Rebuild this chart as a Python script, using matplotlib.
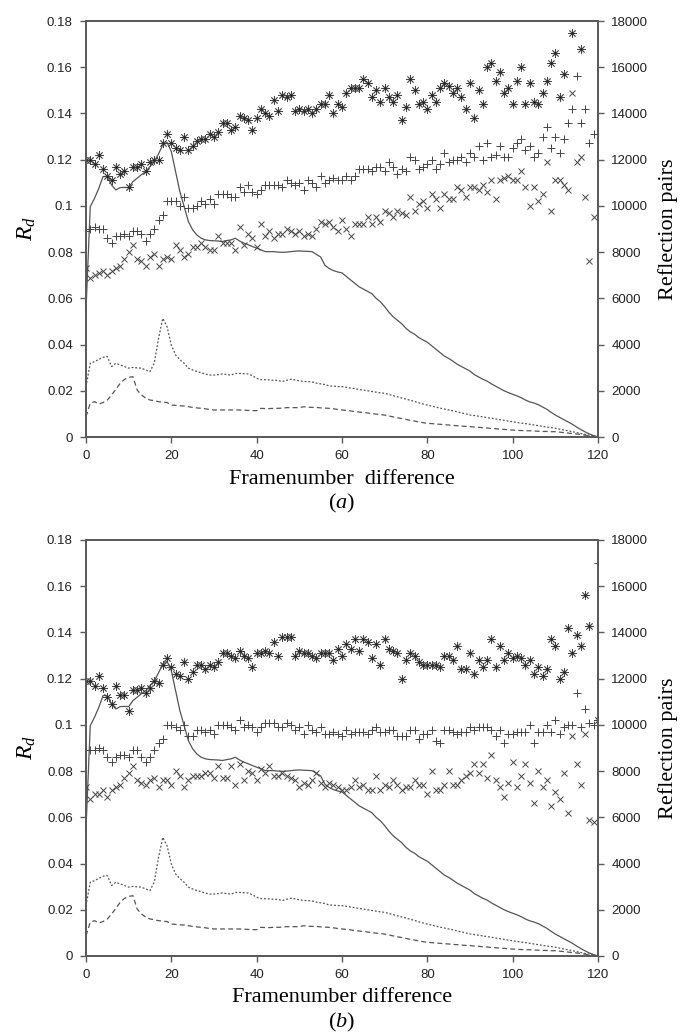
import numpy as np
import matplotlib
matplotlib.use('Agg')
import matplotlib.pyplot as plt
from matplotlib.ticker import FuncFormatter, MultipleLocator

nan = np.nan
frames = np.arange(121)

# panel (a): R_d values for the three marker series
a_star = [0.120, 0.120, 0.118, 0.122, 0.116, 0.113, 0.111, 0.117, 0.114, 0.115,
          0.108, 0.117, 0.117, 0.118, 0.115, 0.119, 0.120, 0.120, 0.127, 0.131,
          0.127, 0.125, 0.124, 0.130, 0.124, 0.126, 0.128, 0.129, 0.129, 0.131,
          0.130, 0.132, 0.136, 0.136, 0.133, 0.134, 0.139, 0.138, 0.137, 0.133,
          0.138, 0.142, 0.140, 0.139, 0.146, 0.141, 0.148, 0.147, 0.148, 0.141,
          0.142, 0.141, 0.142, 0.140, 0.142, 0.144, 0.144, 0.148, 0.140, 0.144,
          0.143, 0.149, 0.151, 0.151, 0.151, 0.155, 0.153, 0.147, 0.150, 0.145,
          0.151, 0.147, 0.145, 0.148, 0.137, 0.143, 0.155, 0.150, 0.144, 0.145,
          0.142, 0.148, 0.145, 0.151, 0.153, 0.152, 0.149, 0.151, 0.147, 0.142,
          0.153, 0.138, 0.150, 0.144, 0.160, 0.162, 0.154, 0.158, 0.149, 0.151,
          0.144, 0.154, 0.160, 0.144, 0.153, 0.145, 0.144, 0.149, 0.154, 0.162,
          0.166, 0.147, 0.157, nan, 0.175, nan, 0.168, nan, nan, nan, nan]
a_plus = [0.089, 0.090, 0.091, 0.090, 0.090, 0.086, 0.084, 0.087, 0.087, 0.088,
          0.087, 0.089, 0.089, 0.088, 0.085, 0.088, 0.090, 0.094, 0.096, 0.102,
          0.102, 0.102, 0.100, 0.104, 0.099, 0.099, 0.100, 0.102, 0.101, 0.103,
          0.101, 0.105, 0.105, 0.105, 0.104, 0.104, 0.108, 0.106, 0.109, 0.106,
          0.105, 0.107, 0.109, 0.109, 0.109, 0.109, 0.108, 0.111, 0.110, 0.109,
          0.110, 0.107, 0.111, 0.110, 0.108, 0.113, 0.110, 0.111, 0.112, 0.111,
          0.111, 0.113, 0.111, 0.113, 0.116, 0.116, 0.116, 0.115, 0.117, 0.117,
          0.115, 0.119, 0.117, 0.114, 0.116, 0.115, 0.121, 0.120, 0.116, 0.117,
          0.118, 0.120, 0.116, 0.118, 0.123, 0.119, 0.120, 0.120, 0.121, 0.119,
          0.123, 0.121, 0.126, 0.120, 0.127, 0.121, 0.122, 0.126, 0.121, 0.121,
          0.125, 0.127, 0.129, 0.124, 0.126, 0.121, 0.123, 0.130, 0.134, 0.125,
          0.130, 0.123, 0.129, 0.136, 0.142, 0.156, 0.136, 0.142, 0.127, 0.131, nan]
a_cross = [0.073, 0.069, 0.070, 0.071, 0.072, 0.070, 0.072, 0.073, 0.074, 0.077,
           0.080, 0.083, 0.077, 0.076, 0.074, 0.078, 0.079, 0.074, 0.077, 0.078,
           0.077, 0.083, 0.081, 0.078, 0.079, 0.082, 0.082, 0.084, 0.082, 0.081,
           0.081, 0.087, 0.084, 0.084, 0.084, 0.081, 0.091, 0.083, 0.088, 0.086,
           0.082, 0.092, 0.087, 0.089, 0.086, 0.088, 0.088, 0.090, 0.089, 0.088,
           0.089, 0.087, 0.088, 0.087, 0.090, 0.093, 0.092, 0.093, 0.091, 0.089,
           0.094, 0.090, 0.087, 0.092, 0.092, 0.092, 0.095, 0.092, 0.095, 0.093,
           0.098, 0.097, 0.095, 0.098, 0.097, 0.096, 0.104, 0.098, 0.101, 0.102,
           0.099, 0.105, 0.103, 0.099, 0.105, 0.103, 0.103, 0.108, 0.107, 0.104,
           0.108, 0.108, 0.107, 0.109, 0.106, 0.111, 0.103, 0.111, 0.112, 0.113,
           0.111, 0.111, 0.115, 0.108, 0.100, 0.108, 0.102, 0.105, 0.119, 0.098,
           0.111, 0.111, 0.109, 0.107, 0.149, 0.119, 0.121, 0.104, 0.076, 0.095, nan]

# panel (b)
b_star = [0.119, 0.119, 0.117, 0.121, 0.116, 0.112, 0.109, 0.117, 0.113, 0.113,
          0.106, 0.115, 0.115, 0.116, 0.114, 0.116, 0.119, 0.118, 0.126, 0.129,
          0.125, 0.122, 0.121, 0.127, 0.120, 0.123, 0.126, 0.126, 0.124, 0.126,
          0.125, 0.127, 0.131, 0.131, 0.130, 0.129, 0.132, 0.130, 0.129, 0.125,
          0.131, 0.131, 0.132, 0.131, 0.136, 0.130, 0.138, 0.138, 0.138, 0.130,
          0.132, 0.131, 0.131, 0.130, 0.129, 0.131, 0.131, 0.131, 0.128, 0.133,
          0.130, 0.135, 0.133, 0.137, 0.132, 0.137, 0.136, 0.129, 0.135, 0.126,
          0.137, 0.133, 0.132, 0.131, 0.120, 0.128, 0.131, 0.130, 0.127, 0.126,
          0.126, 0.126, 0.126, 0.125, 0.130, 0.130, 0.128, 0.134, 0.124, 0.124,
          0.131, 0.122, 0.128, 0.125, 0.128, 0.137, 0.125, 0.134, 0.128, 0.131,
          0.129, 0.130, 0.129, 0.126, 0.128, 0.122, 0.125, 0.121, 0.124, 0.137,
          0.134, 0.120, 0.123, 0.142, 0.131, 0.139, 0.134, 0.156, 0.143, nan, 0.102]
b_plus = [0.089, 0.089, 0.089, 0.090, 0.089, 0.086, 0.084, 0.086, 0.087, 0.087,
          0.086, 0.089, 0.089, 0.086, 0.084, 0.086, 0.089, 0.092, 0.094, 0.100,
          0.100, 0.099, 0.098, 0.100, 0.095, 0.095, 0.098, 0.098, 0.097, 0.098,
          0.096, 0.100, 0.100, 0.100, 0.099, 0.098, 0.102, 0.099, 0.100, 0.099,
          0.097, 0.099, 0.101, 0.101, 0.101, 0.099, 0.099, 0.101, 0.100, 0.098,
          0.099, 0.096, 0.100, 0.098, 0.097, 0.099, 0.096, 0.096, 0.097, 0.096,
          0.095, 0.098, 0.096, 0.097, 0.097, 0.097, 0.096, 0.098, 0.099, 0.097,
          0.097, 0.098, 0.098, 0.095, 0.095, 0.095, 0.098, 0.098, 0.094, 0.096,
          0.096, 0.098, 0.093, 0.092, 0.098, 0.098, 0.097, 0.096, 0.097, 0.097,
          0.099, 0.098, 0.099, 0.099, 0.099, 0.098, 0.095, 0.098, 0.092, 0.096,
          0.096, 0.097, 0.097, 0.097, 0.100, 0.092, 0.097, 0.097, 0.100, 0.097,
          0.102, 0.096, 0.099, 0.100, 0.100, 0.114, 0.099, 0.107, 0.101, 0.100, 0.170]
b_cross = [0.073, 0.068, 0.070, 0.070, 0.072, 0.069, 0.072, 0.073, 0.074, 0.077,
           0.079, 0.082, 0.076, 0.075, 0.074, 0.076, 0.077, 0.073, 0.076, 0.076,
           0.074, 0.080, 0.078, 0.073, 0.076, 0.078, 0.078, 0.078, 0.079, 0.079,
           0.077, 0.082, 0.077, 0.077, 0.082, 0.074, 0.083, 0.076, 0.080, 0.079,
           0.076, 0.081, 0.079, 0.082, 0.078, 0.078, 0.079, 0.078, 0.077, 0.076,
           0.073, 0.075, 0.074, 0.076, 0.079, 0.075, 0.073, 0.075, 0.074, 0.073,
           0.072, 0.072, 0.073, 0.076, 0.073, 0.074, 0.072, 0.072, 0.078, 0.072,
           0.074, 0.073, 0.076, 0.074, 0.072, 0.073, 0.073, 0.076, 0.074, 0.074,
           0.070, 0.080, 0.072, 0.072, 0.074, 0.080, 0.074, 0.074, 0.076, 0.078,
           0.079, 0.083, 0.079, 0.083, 0.077, 0.087, 0.076, 0.073, 0.069, 0.075,
           0.084, 0.073, 0.078, 0.083, 0.075, 0.066, 0.080, 0.073, 0.076, 0.065,
           0.071, 0.068, 0.079, 0.062, 0.095, 0.083, 0.074, 0.096, 0.059, 0.058, nan]

# reflection pairs (right axis), same in both panels
pairs_solid = [5500, 9970, 10330, 10760, 11270, 11270, 10900, 10690, 10790, 10800,
               10790, 11050, 11200, 11350, 11480, 11700, 11910, 12250, 12640, 12750,
               12350, 11480, 10620, 9970, 9320, 8960, 8740, 8600, 8530, 8500,
               8490, 8480, 8460, 8500, 8530, 8600, 8480, 8390, 8320, 8240,
               8170, 8100, 8020, 8020, 8020, 8000, 7990, 8000, 8020, 8040,
               8050, 8040, 8030, 8020, 7900, 7790, 7430, 7290, 7200, 7140,
               7100, 6950, 6800, 6650, 6500, 6400, 6300, 6200, 6000, 5850,
               5640, 5400, 5200, 5050, 4900, 4700, 4550, 4450, 4300, 4200,
               4100, 3950, 3800, 3650, 3500, 3400, 3280, 3150, 3050, 2950,
               2850, 2700, 2600, 2500, 2420, 2300, 2200, 2100, 2000, 1920,
               1850, 1780, 1700, 1600, 1520, 1470, 1400, 1300, 1200, 1070,
               950, 850, 750, 650, 550, 430, 320, 220, 130, 60, 0]
pairs_dotted = [2180, 3190, 3260, 3360, 3450, 3480, 3050, 3190, 3120, 3050,
                2980, 3010, 2990, 2980, 2900, 2830, 3200, 4270, 5130, 4770,
                3980, 3550, 3350, 3190, 2980, 2900, 2830, 2780, 2720, 2680,
                2680, 2700, 2730, 2700, 2680, 2750, 2750, 2740, 2730, 2650,
                2540, 2480, 2480, 2470, 2450, 2450, 2400, 2450, 2500, 2470,
                2430, 2400, 2400, 2380, 2330, 2300, 2270, 2210, 2200, 2180,
                2180, 2150, 2120, 2090, 2060, 2030, 2000, 1970, 1940, 1910,
                1890, 1840, 1790, 1740, 1690, 1640, 1590, 1540, 1480, 1430,
                1380, 1340, 1290, 1250, 1210, 1170, 1130, 1090, 1040, 1000,
                950, 930, 900, 870, 840, 810, 780, 750, 720, 690,
                660, 630, 600, 580, 550, 520, 490, 460, 430, 410,
                380, 340, 300, 270, 230, 190, 150, 110, 80, 40, 0]
pairs_dashed = [880, 1460, 1530, 1430, 1490, 1600, 1820, 2060, 2320, 2490,
                2580, 2610, 2030, 1820, 1680, 1600, 1570, 1530, 1510, 1490,
                1380, 1370, 1350, 1340, 1310, 1280, 1260, 1240, 1220, 1190,
                1170, 1170, 1170, 1170, 1170, 1170, 1170, 1160, 1150, 1140,
                1140, 1240, 1230, 1230, 1240, 1240, 1250, 1270, 1270, 1270,
                1270, 1310, 1290, 1280, 1280, 1260, 1250, 1240, 1220, 1190,
                1170, 1150, 1130, 1100, 1080, 1060, 1040, 1010, 990, 970,
                950, 910, 870, 830, 800, 760, 720, 690, 650, 620,
                590, 580, 560, 550, 530, 520, 500, 490, 470, 460,
                450, 430, 420, 400, 390, 370, 360, 340, 330, 310,
                300, 290, 280, 270, 270, 260, 250, 240, 240, 230,
                230, 210, 190, 170, 150, 130, 110, 80, 50, 30, 0]

plt.rcParams['mathtext.fontset'] = 'custom'
plt.rcParams['mathtext.rm'] = 'Liberation Serif'
plt.rcParams['mathtext.it'] = 'Liberation Serif:italic'

W, H = 680, 1034
fig = plt.figure(figsize=(W / 100, H / 100), dpi=100)

axis_col = '#5a5a5a'
mark_col = '#444444'
tick_font = dict(family='Liberation Sans', size=9.5)
label_font = dict(family='Liberation Serif', size=16)


def px(x, y):
    return x / W, 1 - y / H


def panel(top, star, plus, cross, xlabel, tag):
    bottom = top + 416
    ax = fig.add_axes([86 / W, 1 - bottom / H, 512 / W, 416 / H])
    ax2 = ax.twinx()

    ax2.plot(frames, pairs_solid, color='#555555', lw=0.9)
    ax2.plot(frames, pairs_dotted, color='#555555', lw=0.9, ls=(0, (1.5, 1.5)))
    ax2.plot(frames, pairs_dashed, color='#555555', lw=0.9, ls=(0, (4, 2.5)))

    # gnuplot-like star: + and x overlaid, with a dark dot in the middle
    ax.plot(frames, star, ls='none', marker=(8, 2, 0), ms=6, mew=0.6, color=mark_col)
    ax.plot(frames, star, ls='none', marker='o', ms=1.6, mew=0, color='#222222')
    ax.plot(frames, plus, ls='none', marker='+', ms=5.5, mew=0.7, color=mark_col)
    ax.plot(frames, cross, ls='none', marker='x', ms=5, mew=0.7, color=mark_col)

    ax.set_xlim(0, 120)
    ax.set_ylim(0, 0.18)
    ax2.set_ylim(0, 18000)
    ax.xaxis.set_major_locator(MultipleLocator(20))
    ax.yaxis.set_major_locator(MultipleLocator(0.02))
    ax2.yaxis.set_major_locator(MultipleLocator(2000))
    ax.yaxis.set_major_formatter(FuncFormatter(lambda v, p: '%g' % round(v, 4)))
    ax2.yaxis.set_major_formatter(FuncFormatter(lambda v, p: '%d' % round(v)))

    for a in (ax, ax2):
        for s in a.spines.values():
            s.set_color(axis_col)
            s.set_linewidth(1.3)
        a.tick_params(direction='out', length=4.5, width=1, color=axis_col,
                      labelcolor='#222222', pad=5)
        for lab in a.get_xticklabels() + a.get_yticklabels():
            lab.set_fontfamily(tick_font['family'])
            lab.set_fontsize(tick_font['size'])
    ax.set_zorder(2)
    ax.patch.set_visible(False)

    mid = (top + bottom) / 2
    fig.text(*px(342, bottom + 42), xlabel, ha='center', va='center', **label_font)
    fig.text(*px(342, bottom + 66), tag, ha='center', va='center', **label_font)
    fig.text(*px(26, mid), r'$R_d$', ha='center', va='center', rotation=90, size=17)
    fig.text(*px(668, mid), 'Reflection pairs', ha='center', va='center',
             rotation=90, **label_font)


panel(21, a_star, a_plus, a_cross, 'Framenumber  difference', r'($a$)')
panel(540, b_star, b_plus, b_cross, 'Framenumber difference', r'($b$)')

fig.savefig('out.png', dpi=100)
